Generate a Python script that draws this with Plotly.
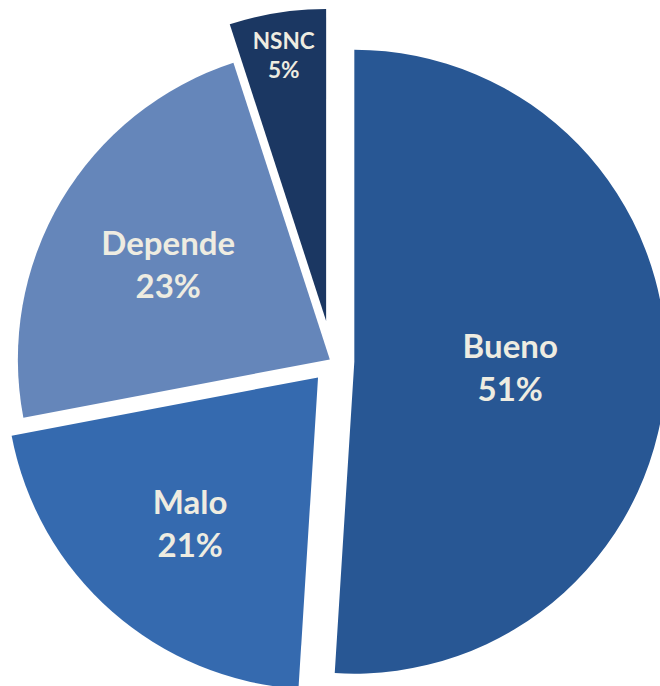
import plotly.graph_objects as go

labels = ["Bueno", "Malo", "Depende", "NSNC"]
values = [51, 21, 23, 5]
colors = ["#285794", "#356AAF", "#6586BA", "#1B3762"]
pulls = [0.07, 0.07, 0.01, 0.13]
font_sizes = [33, 33, 33, 28]

fig = go.Figure(
    go.Pie(
        labels=labels,
        values=values,
        sort=False,
        direction="clockwise",
        rotation=0,
        pull=pulls,
        marker=dict(colors=colors, line=dict(width=0)),
        texttemplate="%{label}<br>%{value}%",
        textposition="inside",
        insidetextorientation="horizontal",
        textfont=dict(family="Lato", size=font_sizes, color="#EEECE1", weight="bold"),
        hoverinfo="label+percent",
        showlegend=False,
    )
)

fig.update_layout(
    width=705,
    height=722,
    margin=dict(l=0, r=0, t=0, b=0),
    paper_bgcolor="white",
    plot_bgcolor="white",
)

post_script = """
var gd = document.getElementById('{plot_id}');
document.documentElement.style.overflow='hidden';
document.body.style.margin='0';
document.body.style.overflow='hidden';
var wrap = gd.parentElement;
wrap.style.position='relative';
wrap.style.width='660px';
wrap.style.height='686px';
wrap.style.overflow='hidden';
gd.style.position='absolute';
gd.style.left='-20px';
gd.style.top='0px';
"""

fig.write_html("out.html", post_script=post_script, config={"displayModeBar": False})
